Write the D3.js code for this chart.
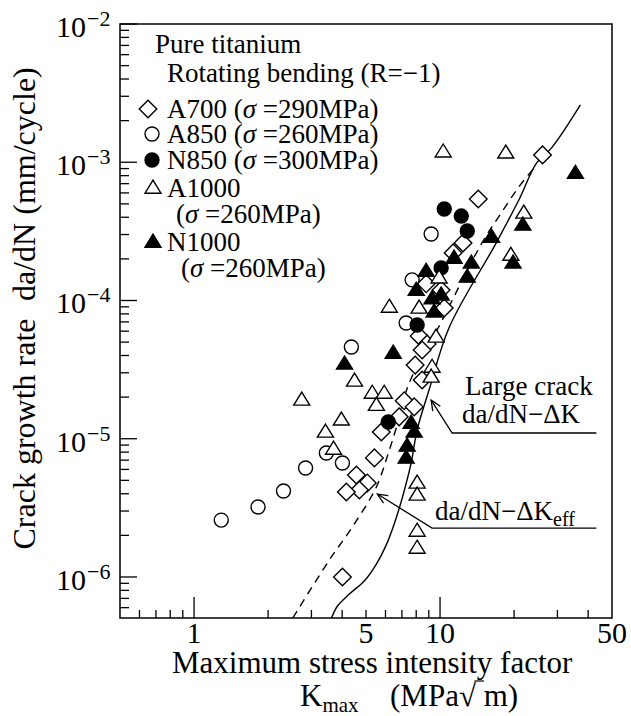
<!DOCTYPE html>
<html><head><meta charset="utf-8">
<script src="https://cdn.jsdelivr.net/npm/d3@7"></script>
<style>
body{margin:0;background:#fff}
svg{display:block}
text{font-family:"Liberation Serif","Times New Roman",serif;fill:#000}
</style>
</head><body>
<svg id="chart" width="631" height="716"></svg>
<script>
// ---------- data (K_max in MPa·m^0.5, da/dN in mm/cycle) ----------
const A700 = [[26.1,1.13e-3],[14.3,5.42e-4],[12.4,2.61e-4],[11.3,2.21e-4],[8.78,1.32e-4],[10.1,1.19e-4],[10.4,8.83e-5],[8.22,5.53e-5],[8.86,4.84e-5],[8.46,4.38e-5],[7.92,3.41e-5],[8.46,2.66e-5],[7.15,1.88e-5],[7.85,1.70e-5],[6.82,1.44e-5],[5.77,1.12e-5],[5.41,7.27e-6],[4.57,5.47e-6],[5.06,4.79e-6],[4.70,4.26e-6],[4.16,4.12e-6],[4.01,1.0e-6]];
const A850 = [[9.20,3.03e-4],[7.70,1.41e-4],[7.28,6.87e-5],[4.36,4.61e-5],[4.01,6.68e-6],[3.45,7.89e-6],[2.84,6.14e-6],[2.31,4.19e-6],[1.82,3.21e-6],[1.29,2.58e-6]];
const N850 = [[10.4,4.59e-4],[12.2,4.08e-4],[12.9,3.18e-4],[10.1,1.72e-4],[8.07,6.65e-5],[6.16,1.32e-5]];
const A1000 = [[10.3,1.19e-3],[18.5,1.17e-3],[21.9,4.30e-4],[19.4,2.13e-4],[9.91,1.46e-4],[6.22,8.97e-5],[8.22,8.83e-5],[9.63,5.45e-5],[9.28,3.30e-5],[9.20,2.80e-5],[4.49,2.62e-5],[2.74,1.91e-5],[5.30,2.14e-5],[5.93,2.14e-5],[5.51,1.75e-5],[3.97,1.37e-5],[3.42,1.12e-5],[3.69,8.43e-6],[8.07,4.79e-6],[8.07,3.92e-6],[8.07,2.15e-6],[8.07,1.62e-6]];
const N1000 = [[35.5,8.35e-4],[21.7,3.52e-4],[16.2,2.88e-4],[19.8,1.87e-4],[11.4,2.03e-4],[13.4,1.87e-4],[12.9,1.48e-4],[8.78,1.63e-4],[8.00,1.19e-4],[10.1,1.10e-4],[9.28,1.03e-4],[9.46,8.27e-5],[6.45,4.17e-5],[4.09,3.48e-5],[7.63,1.30e-5],[7.85,1.12e-5],[7.35,8.87e-6],[7.28,7.26e-6]];

// large crack da/dN - ΔK (solid) and da/dN - ΔKeff (dashed)
const largeCrackCurve = [[3.62,5.05e-7],[3.83,6.17e-7],[4.28,7.53e-7],[4.92,9.35e-7],[5.51,1.24e-6],[6.04,1.70e-6],[6.51,2.42e-6],[7.02,3.73e-6],[7.63,6.68e-6],[8.07,1.16e-5],[9.02,2.25e-5],[10.9,6.4e-5],[16.9,2.6e-4],[20.9,5.33e-4],[24.7,9.88e-4],[28.4,1.27e-3],[37.2,2.6e-3]];
const effCurve = [[2.52,5.05e-7],[3.55,1.33e-6],[4.40,2.30e-6],[5.51,4.48e-6],[6.22,8.29e-6],[6.64,1.20e-5],[7.49,2.53e-5],[9.73,6.12e-5],[14.8,2.61e-4],[17.3,4.02e-4],[20.9,6.62e-4],[24.7,9.55e-4]];

const seriesNames = ["A700","A850","N850","A1000","N1000"];
const seriesStress = ["290MPa","260MPa","300MPa","260MPa","260MPa"];
const xTickLabels = ["1","5","10","50"];
const xTickValues = [1,5,10,50];
const yDecadeExps = [-2,-3,-4,-5,-6];

// ---------- setup ----------
const svg = d3.select("#chart");
const x = d3.scaleLog().domain([0.5,50]).range([120,612]);
const y = d3.scaleLog().domain([5.05e-7,1e-2]).range([618,24]);
const [x0,x1] = x.range(), [y0,y1] = y.range();

svg.append("clipPath").attr("id","clip").append("rect")
  .attr("x",x0).attr("y",y1).attr("width",x1-x0).attr("height",y0-y1);

// ---------- ticks ----------
const tickG = svg.append("g").attr("stroke","#000").attr("stroke-width",1.3);
for (let e=-7;e<=-2;e++){
  for (let k=1;k<=9;k++){
    const v = k*Math.pow(10,e);
    if (v < y.domain()[0]*0.999 || v > y.domain()[1]*1.001) continue;
    const len = k===1 ? 17 : 9;
    tickG.append("line").attr("x1",x0).attr("x2",x0+len).attr("y1",y(v)).attr("y2",y(v));
  }
}
for (let e=-1;e<=1;e++){
  for (let k=1;k<=9;k++){
    const v = k*Math.pow(10,e);
    if (v <= x.domain()[0]*1.001 || v >= x.domain()[1]*0.999) continue;
    const len = k===1 ? 21 : 8;
    tickG.append("line").attr("x1",x(v)).attr("x2",x(v)).attr("y1",y0).attr("y2",y0-len);
  }
}
svg.append("rect").attr("x",x0).attr("y",y1).attr("width",x1-x0).attr("height",y0-y1)
  .attr("fill","none").attr("stroke","#000").attr("stroke-width",1.5);

// tick labels
yDecadeExps.forEach(e=>{
  const ty = y(Math.pow(10,e));
  svg.append("text").attr("x",86).attr("y",ty+13).attr("text-anchor","end").attr("font-size",30).text("10");
  svg.append("text").attr("x",87).attr("y",ty+2).attr("font-size",22).text("\u2212"+Math.abs(e));
});
xTickValues.forEach((v,i)=>{
  svg.append("text").attr("x",x(v)).attr("y",643).attr("text-anchor","middle").attr("font-size",30).text(xTickLabels[i]);
});

// axis titles
svg.append("text").attr("x",172).attr("y",673).attr("font-size",31).text("Maximum stress intensity factor");
const xl2 = svg.append("text").attr("y",706).attr("font-size",31);
xl2.append("tspan").attr("x",300).text("K");
xl2.append("tspan").attr("font-size",21).attr("dy",6).text("max");
xl2.append("tspan").attr("x",390).attr("dy",-6).text("(MPa\u221A m)");
try{
  const r = xl2.node().getExtentOfChar(8);
  svg.append("line").attr("x1",r.x+r.width-1.5).attr("x2",r.x+r.width+8).attr("y1",681).attr("y2",681)
    .attr("stroke","#000").attr("stroke-width",1.2);
}catch(err){}

const yl = svg.append("g").attr("transform","translate(35,0)");
[["Crack growth rate",434],["da/dN",262],["(mm/cycle)",141]].forEach(([t,c])=>{
  yl.append("text").attr("transform",`translate(0,${c}) rotate(-90)`).attr("text-anchor","middle")
    .attr("font-size",32).text(t);
});

// ---------- curves ----------
const line = d3.line().x(d=>x(d[0])).y(d=>y(d[1])).curve(d3.curveCatmullRom.alpha(0.5));
const curveG = svg.append("g").attr("clip-path","url(#clip)").attr("fill","none").attr("stroke","#000");
curveG.append("path").attr("d",line(largeCrackCurve)).attr("stroke-width",1.4);
curveG.append("path").attr("d",line(effCurve)).attr("stroke-width",1.4).attr("stroke-dasharray","8,6");

// ---------- markers ----------
const shapes = {
  diamond: "M0,-8.8L8.8,0L0,8.8L-8.8,0Z",
  circle: d3.symbol().type(d3.symbolCircle).size(Math.PI*7*7)(),
  triangle: "M0,-7.8L8,5.2L-8,5.2Z"
};
const styles = [
  {data:A700, shape:"diamond", fill:"#fff"},
  {data:A850, shape:"circle", fill:"#fff"},
  {data:N850, shape:"circle", fill:"#000"},
  {data:A1000, shape:"triangle", fill:"#fff"},
  {data:N1000, shape:"triangle", fill:"#000"}
];
const markG = svg.append("g");
styles.forEach(s=>{
  markG.selectAll(null).data(s.data).enter().append("path")
    .attr("d",shapes[s.shape])
    .attr("transform",d=>`translate(${x(d[0])},${y(d[1])})`)
    .attr("fill",s.fill).attr("stroke","#000").attr("stroke-width",1.4);
});

// ---------- legend ----------
svg.append("text").attr("x",155).attr("y",53).attr("font-size",27).text("Pure titanium");
svg.append("text").attr("x",167).attr("y",82).attr("font-size",27).text("Rotating bending (R=\u22121)");
const rowY = [109,134,160,188,242];
const contY = {3:214, 4:268};
const markerX = [148,152,152,153,153];
styles.forEach((s,i)=>{
  svg.append("path").attr("d",shapes[s.shape]).attr("transform",`translate(${markerX[i]},${rowY[i]})`)
    .attr("fill",s.fill).attr("stroke","#000").attr("stroke-width",1.4);
  const stressText = t=>{
    t.append("tspan").text("(");
    t.append("tspan").attr("font-style","italic").text("\u03C3");
    t.append("tspan").text(" ="+seriesStress[i]+")");
  };
  if (contY[i]===undefined){
    const t = svg.append("text").attr("x",167).attr("y",rowY[i]+9).attr("font-size",27);
    t.append("tspan").text(seriesNames[i]+" ");
    stressText(t);
  } else {
    svg.append("text").attr("x",167).attr("y",rowY[i]+9).attr("font-size",27).text(seriesNames[i]);
    const t = svg.append("text").attr("x",i===3?176:181).attr("y",contY[i]+9).attr("font-size",27);
    stressText(t);
  }
});

// ---------- annotations ----------
const annG = svg.append("g").attr("fill","none").attr("stroke","#000").attr("stroke-width",1.3);
function leader(pts){
  const p = pts.map(d=>[x(d[0]),y(d[1])]);
  annG.append("path").attr("d",d3.line()(p));
  const [tx,ty] = p[0], [nx,ny] = p[1];
  const ang = Math.atan2(ny-ty,nx-tx), L=11, a=0.42;
  annG.append("path").attr("d",d3.line()([
    [tx+L*Math.cos(ang-a), ty+L*Math.sin(ang-a)],[tx,ty],[tx+L*Math.cos(ang+a), ty+L*Math.sin(ang+a)]]));
}
leader([[9.2,1.9e-5],[11.2,1.10e-5],[43.2,1.10e-5]]);
leader([[5.56,3.98e-6],[9.28,2.26e-6],[43.2,2.26e-6]]);

svg.append("text").attr("x",465).attr("y",395).attr("font-size",27).text("Large crack");
svg.append("text").attr("x",462).attr("y",423).attr("font-size",27).text("da/dN\u2212\u0394K");
const ke = svg.append("text").attr("x",435).attr("y",520).attr("font-size",27);
ke.append("tspan").text("da/dN\u2212\u0394K");
ke.append("tspan").attr("font-size",20).attr("dy",6).text("eff");
</script>
</body></html>
